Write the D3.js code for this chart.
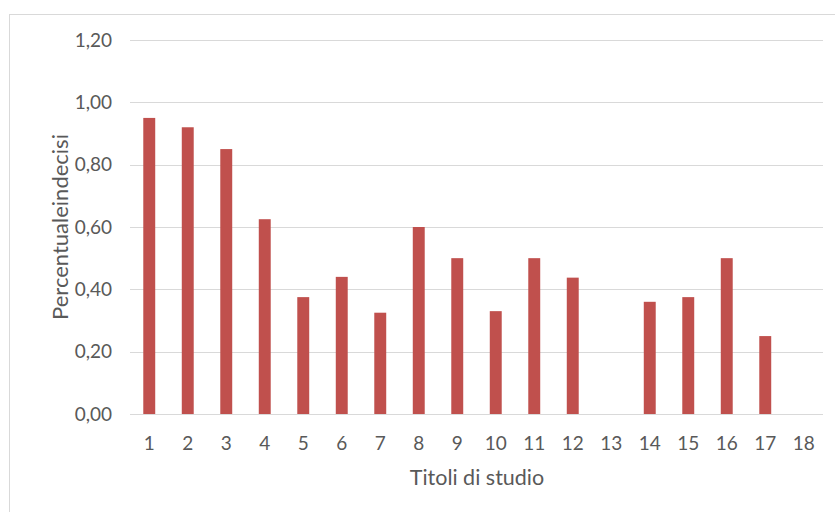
<!DOCTYPE html>
<html>
<head>
<meta charset="utf-8">
<script src="https://cdn.jsdelivr.net/npm/d3@7"></script>
<style>
  html, body { margin: 0; padding: 0; background: #fff; }
  svg { display: block; }
  text { font-family: Lato, "Open Sans", "Liberation Sans", sans-serif; fill: #595959; }
</style>
</head>
<body>
<svg id="chart" width="835" height="512"></svg>
<script>
// Categories (titoli di studio) and share of undecided respondents
const categories = ["1","2","3","4","5","6","7","8","9","10","11","12","13","14","15","16","17","18"];
const values = [0.95, 0.92, 0.85, 0.625, 0.375, 0.44, 0.325, 0.60, 0.50, 0.33, 0.50, 0.4375, 0, 0.36, 0.375, 0.50, 0.25, 0];
const yTicks = [0, 0.2, 0.4, 0.6, 0.8, 1.0, 1.2];

const svg = d3.select("#chart");
const W = 835, H = 512;
const margin = { left: 130, right: 12, top: 40, bottom: 98 };
const plotW = W - margin.left - margin.right;
const plotH = H - margin.top - margin.bottom;

// Outer chart frame
svg.append("rect")
  .attr("x", 9.5).attr("y", 14.5)
  .attr("width", W).attr("height", H)
  .attr("fill", "#fff").attr("stroke", "#d9d9d9");

const g = svg.append("g").attr("transform", `translate(${margin.left},${margin.top})`);

const x = d3.scaleBand().domain(categories).range([0, plotW]).paddingInner(0.69).paddingOuter(0.345);
const y = d3.scaleLinear().domain([0, 1.2]).range([plotH, 0]);

const fmt = v => d3.format(".2f")(v).replace(".", ",");

// Horizontal gridlines
g.append("g")
  .selectAll("line")
  .data(yTicks)
  .join("line")
  .attr("x1", 0).attr("x2", plotW)
  .attr("y1", d => Math.round(y(d)) + 0.5).attr("y2", d => Math.round(y(d)) + 0.5)
  .attr("stroke", "#d9d9d9").attr("stroke-width", 1);

// Y axis labels
const yAxis = d3.axisLeft(y).tickValues(yTicks).tickFormat(fmt).tickSize(0).tickPadding(18);
g.append("g").call(yAxis)
  .call(s => s.select(".domain").remove())
  .selectAll("text")
  .attr("font-size", 19).style("fill", "#595959");

// X axis labels
const xAxis = d3.axisBottom(x).tickSize(0).tickPadding(22.5);
g.append("g").attr("transform", `translate(0,${plotH})`).call(xAxis)
  .call(s => s.select(".domain").remove())
  .selectAll("text")
  .attr("font-size", 19).style("fill", "#595959");

// Bars
g.append("g")
  .selectAll("rect")
  .data(values)
  .join("rect")
  .attr("x", (d, i) => x(categories[i]))
  .attr("width", x.bandwidth())
  .attr("y", d => y(d))
  .attr("height", d => plotH - y(d))
  .attr("fill", "#c0504d");

// Axis titles
svg.append("text")
  .attr("x", 477)
  .attr("y", 485)
  .attr("text-anchor", "middle")
  .attr("font-size", 21.5)
  .text("Titoli di studio");

svg.append("text")
  .attr("transform", `translate(68,227) rotate(-90)`)
  .attr("text-anchor", "middle")
  .attr("font-size", 22)
  .text("Percentualeindecisi");
</script>
</body>
</html>
